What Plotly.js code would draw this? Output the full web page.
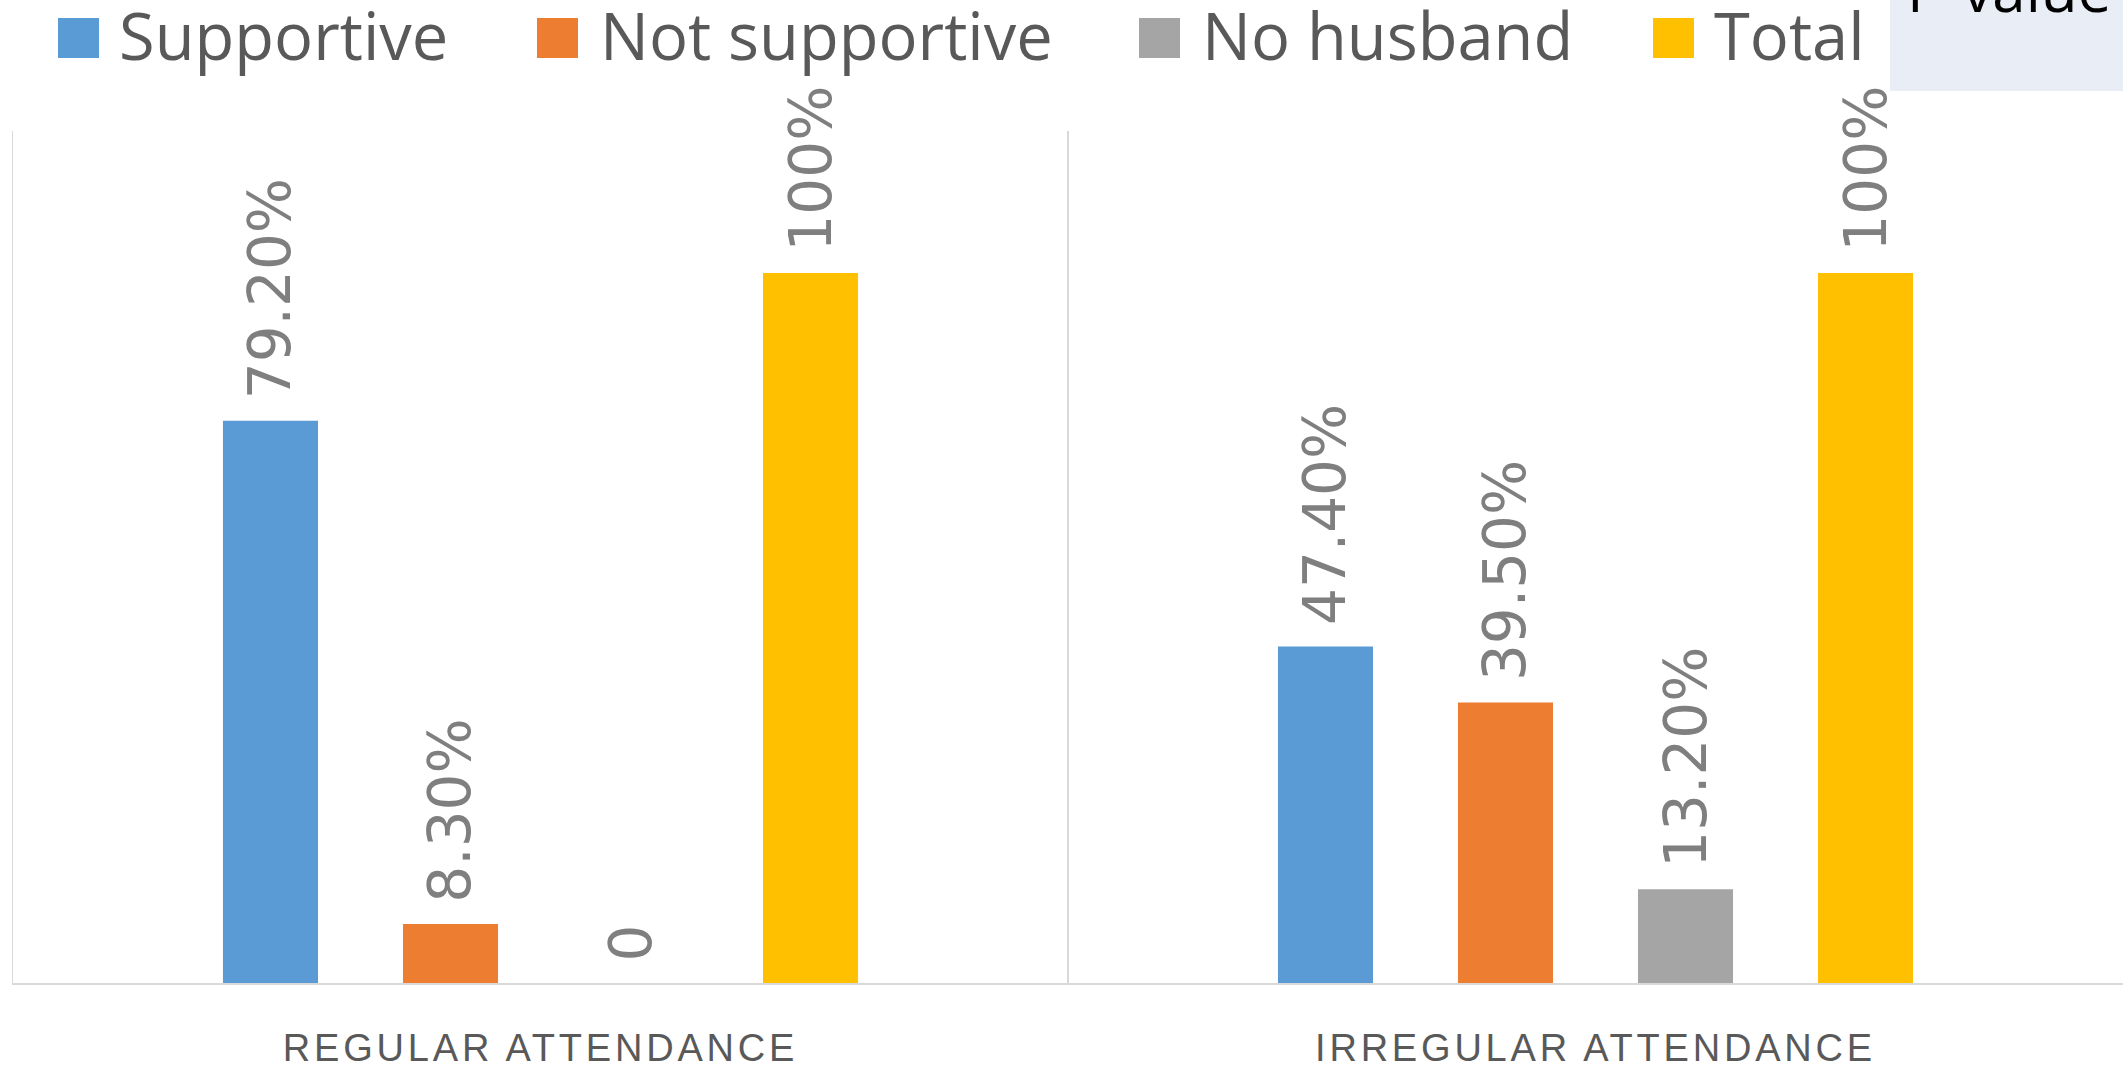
<!DOCTYPE html>
<html>
<head>
<meta charset="utf-8">
<script src="https://cdn.plot.ly/plotly-3.0.1.min.js"></script>
<style>
html,body{margin:0;padding:0;background:#fff;}
#chart{width:2123px;height:1066px;}
#chart .xtick text{letter-spacing:3.8px;}
</style>
</head>
<body>
<div id="chart"></div>
<script>
// ---- data ----
const categories = ["REGULAR ATTENDANCE", "IRREGULAR ATTENDANCE"];
const seriesNames = ["Supportive", "Not supportive", "No husband", "Total"];
const supportive = [79.2, 47.4];
const notSupportive = [8.3, 39.5];
const noHusband = [0, 13.2];
const total = [100, 100];
const supportiveLabels = ["79.20%", "47.40%"];
const notSupportiveLabels = ["8.30%", "39.50%"];
const noHusbandLabels = ["0", "13.20%"];
const totalLabels = ["100%", "100%"];
const boxLabel = "P-value";

const colors = ["#5B9BD5", "#ED7D31", "#A5A5A5", "#FFC000"];
const values = [supportive, notSupportive, noHusband, total];
const labels = [supportiveLabels, notSupportiveLabels, noHusbandLabels, totalLabels];

const traces = seriesNames.map((name, i) => ({
  type: "bar",
  name: name,
  x: categories,
  y: values[i],
  text: labels[i],
  texttemplate: "\u00a0%{text}",
  textposition: "outside",
  textangle: -90,
  constraintext: "none",
  cliponaxis: false,
  textfont: {family: "DejaVu Sans", size: 58, color: "#7F7F7F"},
  marker: {color: colors[i]},
  hoverinfo: "skip",
  showlegend: false
}));

// custom legend (large squares like the original)
const L = 13, W = 2110, B = 983, H = 852;
const px = X => (X - L) / W;
const py = Y => (B - Y) / H;
const legendMarkerX = [58, 537, 1139, 1653];
const legendTextX = [117, 598, 1200, 1712];
const shapes = [];
const annotations = [];
seriesNames.forEach((name, i) => {
  shapes.push({type: "rect", xref: "paper", yref: "paper",
    x0: px(legendMarkerX[i]), x1: px(legendMarkerX[i] + 41),
    y0: py(58), y1: py(18), fillcolor: colors[i], line: {width: 0}});
  annotations.push({xref: "paper", yref: "paper", x: px(legendTextX[i]), y: py(35),
    xanchor: "left", yanchor: "middle", showarrow: false, text: name,
    font: {family: "Open Sans", size: 65, color: "#595959"}});
});
// P-value box (cropped at top)
shapes.push({type: "rect", xref: "paper", yref: "paper", layer: "below",
  x0: px(1890), x1: 1, y0: py(91), y1: py(-5), fillcolor: "#E9EDF6", line: {width: 0}});
annotations.push({xref: "paper", yref: "paper", x: px(1905), y: py(32),
  xanchor: "left", yanchor: "bottom", showarrow: false, text: boxLabel,
  font: {family: "Open Sans", size: 60, color: "#000000"}});

const layout = {
  width: 2123, height: 1066,
  margin: {l: 13, r: 0, t: 131, b: 83, pad: 0},
  paper_bgcolor: "#FFFFFF", plot_bgcolor: "#FFFFFF",
  barmode: "group", bargap: 0.3175, bargroupgap: 0.472,
  showlegend: false,
  xaxis: {
    type: "category", tickson: "boundaries", showgrid: true, gridcolor: "#D9D9D9", gridwidth: 1.5,
    showline: true, linecolor: "#D9D9D9", linewidth: 2, ticks: "", zeroline: false,
    ticklabelstandoff: 30,
    tickfont: {family: "Liberation Sans", size: 38, color: "#595959"}
  },
  yaxis: {range: [0, 120], visible: true, showticklabels: false, ticks: "", showgrid: false,
    zeroline: false, showline: true, linecolor: "#D9D9D9", linewidth: 1.5, fixedrange: true},
  shapes: shapes,
  annotations: annotations,
  font: {family: "Open Sans"}
};

Plotly.newPlot("chart", traces, layout, {displayModeBar: false, staticPlot: true});
</script>
</body>
</html>
